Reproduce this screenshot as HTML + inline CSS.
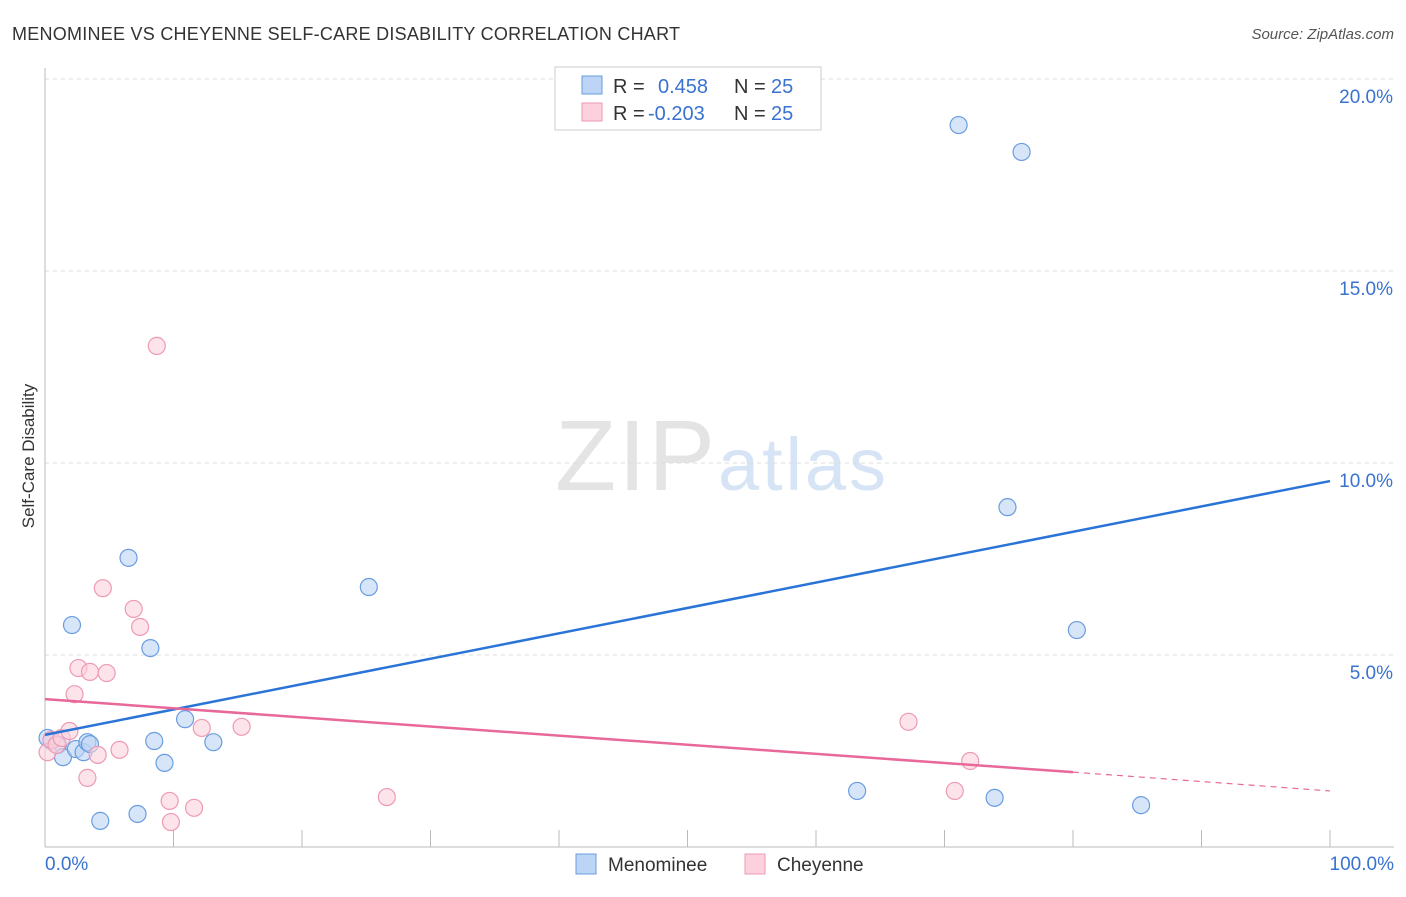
<!DOCTYPE html>
<html><head><meta charset="utf-8"><style>
body{margin:0;background:#fff;font-family:"Liberation Sans",sans-serif}
svg text{font-family:"Liberation Sans",sans-serif}
</style></head><body>
<svg id="c" width="1406" height="892">
<text x="12" y="40" font-size="18" fill="#333" textLength="668">MENOMINEE VS CHEYENNE SELF-CARE DISABILITY CORRELATION CHART</text>
<text x="1394" y="39" font-size="15" fill="#555" text-anchor="end" font-style="italic">Source: ZipAtlas.com</text>
<text x="555" y="490" font-size="100" fill="#e4e4e4" textLength="160" font-family="Liberation Serif">ZIP</text>
<text x="718" y="490" font-size="74" fill="#d6e4f5" textLength="168">atlas</text>
<text transform="translate(34,456) rotate(-90)" font-size="17" fill="#333" text-anchor="middle">Self-Care Disability</text>
<g id="grid"></g><g id="marks"></g>
<g>
<rect x="555" y="67" width="266" height="63" fill="#fff" stroke="#ccc"/>
<rect x="582" y="76" width="20" height="18" fill="#bcd4f5" stroke="#6a9de0"/>
<rect x="582" y="103" width="20" height="18" fill="#fcd0dc" stroke="#ee9ab3"/>
<text x="613" y="93" font-size="20" fill="#333">R =</text><text x="658" y="93" font-size="20" fill="#3a72cf">0.458</text>
<text x="734" y="93" font-size="20" fill="#333">N =</text><text x="771" y="93" font-size="20" fill="#3a72cf">25</text>
<text x="613" y="120" font-size="20" fill="#333">R =</text><text x="648" y="120" font-size="20" fill="#3a72cf">-0.203</text>
<text x="734" y="120" font-size="20" fill="#333">N =</text><text x="771" y="120" font-size="20" fill="#3a72cf">25</text>
</g>
<g>
<rect x="576" y="854" width="20" height="20" fill="#bcd4f5" stroke="#6a9de0"/>
<text x="608" y="871" font-size="19" fill="#333">Menominee</text>
<rect x="745" y="854" width="20" height="20" fill="#fcd0dc" stroke="#ee9ab3"/>
<text x="777" y="871" font-size="19" fill="#333">Cheyenne</text>
</g>
</svg>
<script>
const yTicks=[5,10,15,20];
const yTickLabels=["5.0%","10.0%","15.0%","20.0%"];
const xTicks=[0,10,20,30,40,50,60,70,80,90,100];
const menomineeX=[0.5,1.0,1.4,2.4,3.0,3.3,3.5,2.1,6.5,8.2,8.5,9.3,10.9,13.1,4.3,7.2,25.2,71.1,76.0,74.9,80.3,63.2,73.9,85.3,0.2];
const menomineeY=[2.76,2.66,2.34,2.55,2.47,2.73,2.68,5.78,7.53,5.18,2.76,2.19,3.33,2.73,0.68,0.86,6.77,18.8,18.1,8.85,5.65,1.46,1.28,1.09,2.84];
const cheyenneX=[0.2,0.5,0.9,1.3,1.9,2.3,2.6,3.5,4.8,4.5,6.9,7.4,8.7,3.3,4.1,5.8,9.7,9.8,11.6,12.2,15.3,26.6,67.2,70.8,72.0];
const cheyenneY=[2.47,2.79,2.66,2.84,3.02,3.98,4.66,4.56,4.53,6.74,6.2,5.73,13.05,1.8,2.4,2.53,1.2,0.65,1.02,3.1,3.13,1.3,3.26,1.46,2.24];
const blueTrend=[[0,2.92],[100,9.53]];
const pinkTrend=[[0,3.85],[80,1.95],[100,1.46]];
const sx=v=>45+v*12.85, sy=v=>847-v*38.4;
const NS="http://www.w3.org/2000/svg";
function mk(t,a,p){const e=document.createElementNS(NS,t);for(const k in a)e.setAttribute(k,a[k]);p.appendChild(e);return e;}
const g=document.getElementById('grid'),m=document.getElementById('marks');
yTicks.forEach((v,i)=>{
 const l=mk('line',{x1:45,x2:1394,y1:sy(v),y2:sy(v),stroke:'#ddd','stroke-dasharray':'4,4'},g);
 
 
 const t=mk('text',{x:1393,y:sy(v)+24,'font-size':19,fill:'#3a72cf','text-anchor':'end'},g);t.textContent=yTickLabels[i];
 
 
});
const ax=mk('line',{x1:45,x2:45,y1:68,y2:847,stroke:'#bbb'},g);


const bx=mk('line',{x1:45,x2:1394,y1:847,y2:847,stroke:'#bbb'},g);


xTicks.forEach(v=>{const l=mk('line',{x1:sx(v),x2:sx(v),y1:830,y2:847,stroke:'#bbb'},g);
 
 });
const t0=mk('text',{x:45,y:870,'font-size':19,fill:'#3a72cf'},g);t0.textContent='0.0%';


const t1=mk('text',{x:1394,y:870,'font-size':19,fill:'#3a72cf','text-anchor':'end'},g);t1.textContent='100.0%';


function pts(X,Y,f,s,n){X.forEach((x,i)=>{const c=mk('circle',{cx:sx(x),cy:sy(Y[i]),r:8.5,fill:f,'fill-opacity':0.6,stroke:s,'stroke-width':1.2},m);
 
 });}
pts(menomineeX,menomineeY,'#bcd4f5','#6a9de0','menominee-point');
pts(cheyenneX,cheyenneY,'#fcd0dc','#ee9ab3','cheyenne-point');
const bl=mk('line',{x1:sx(blueTrend[0][0]),y1:sy(blueTrend[0][1]),x2:sx(blueTrend[1][0]),y2:sy(blueTrend[1][1]),stroke:'#2a74d8','stroke-width':2.5},m);


const pl=mk('line',{x1:sx(pinkTrend[0][0]),y1:sy(pinkTrend[0][1]),x2:sx(pinkTrend[1][0]),y2:sy(pinkTrend[1][1]),stroke:'#e8689a','stroke-width':2.5},m);


const pd=mk('line',{x1:sx(pinkTrend[1][0]),y1:sy(pinkTrend[1][1]),x2:sx(pinkTrend[2][0]),y2:sy(pinkTrend[2][1]),stroke:'#e8689a','stroke-width':1.2,'stroke-dasharray':'6,5'},m);


</script>
</body></html>
